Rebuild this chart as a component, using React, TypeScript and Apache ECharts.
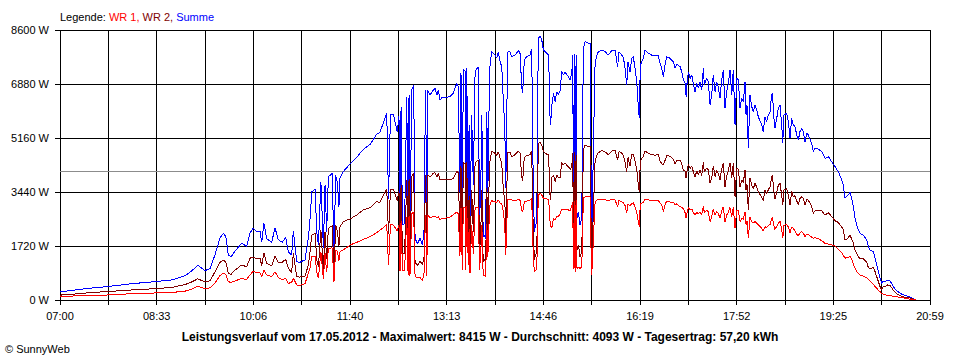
import React, { useEffect, useRef } from "react";
import * as echarts from "echarts";

// Time axis: minutes after 07:00 (07:00 .. 20:59)
const dayStartLabel = "07:00";
const dayLength = 839;
const xLabels = ["07:00", "08:33", "10:06", "11:40", "13:13", "14:46", "16:19", "17:52", "19:25", "20:59"];
const yMax = 8600;
const yStep = 1720;

const average = 4093;
const maximum = 8415;
const dayYield = "57,20";
const dateText = "17.05.2012";

const minutes = [
  0, 1, 14.5, 29, 46.6, 69, 91.6, 107.7, 120.5, 127,
  132.8, 139.8, 144.7, 149.5, 154.3, 157.5, 160, 162.3, 165, 168.8,
  175.2, 180, 183.2, 186.4, 189.7, 192.9, 194.5, 196.7, 199.3, 204.1,
  207.3, 210.5, 214.4, 217.6, 220.2, 223.4, 225, 228.3, 231.4, 236.3,
  239.5, 241, 242.8, 246, 247.6, 249.2, 251.6, 254, 255.6, 257.2,
  258.8, 262.6, 264.2, 265.8, 267.4, 269, 270, 273.2, 276.5, 279.7,
  286.1, 292.5, 299, 305.4, 308.6, 311.8, 315.1, 316.8, 318.7, 321.4,
  325.2, 326.9, 327.9, 328.9, 330.3, 332.3, 334.4, 335.7, 336.6, 337.5,
  339.2, 341.1, 342.4, 344.8, 347.2, 349.4, 351, 352, 352.7, 353.6,
  354.6, 356.8, 360, 361.6, 363.6, 364.8, 366.5, 368.1, 371.3, 376.1,
  379.3, 380.9, 382.6, 384.1, 385.7, 386.7, 388, 388.9, 390.6, 391.2,
  392.2, 393.8, 394.5, 395.4, 397, 398.6, 400.3, 401.9, 403.5, 404.5,
  405.8, 406.8, 408.1, 409, 410.5, 411.6, 412.6, 413.7, 414.7, 416.3,
  419.5, 421.2, 422.7, 424.4, 426, 427.6, 428.5, 429.2, 429.9, 430.9,
  431.8, 434, 435.6, 438.8, 442, 443.6, 445.3, 446.2, 447.5, 448.5,
  450.1, 453.3, 454.9, 455.9, 456.5, 457.5, 458.6, 459.8, 460.8, 461.3,
  463, 464.6, 466.2, 469.5, 471, 472, 472.7, 473.3, 474.3, 475.9,
  477.5, 479.1, 480.6, 482.2, 483.9, 485.4, 487.1, 488.7, 490.3, 491.9,
  493.5, 494.5, 495.1, 496, 496.7, 497.7, 498.6, 499.9, 501.5, 503.2,
  504.7, 506.4, 509.6, 511.2, 512.2, 512.8, 513.8, 514.7, 516, 517.6,
  519.2, 522.4, 525.6, 528.8, 532, 535.2, 537.8, 539, 541.8, 543.4,
  545, 546.5, 547.8, 549.7, 551.3, 552.9, 554.5, 556.2, 557.7, 558.7,
  559.6, 561, 562.6, 564.2, 567.4, 570.6, 573.8, 577, 578.6, 580.3,
  581.8, 583.5, 585.1, 588.3, 591.5, 593.1, 594.8, 598, 599.6, 601.2,
  602.8, 603.8, 604.5, 606, 607.7, 609.3, 610.9, 612.4, 614.1, 615.7,
  617.2, 618.9, 620.4, 621.4, 623.7, 625.2, 626.9, 628.5, 630, 631.7,
  633.3, 634.8, 636.5, 638.1, 639.7, 641.3, 642.9, 644.5, 646.1, 647.8,
  649.3, 651, 652.6, 654.2, 655.8, 657.4, 659, 660.6, 661.6, 662.5,
  663.8, 665.4, 667.1, 668.6, 670.2, 671.9, 673.4, 676.7, 678.2, 679.9,
  681.5, 683.1, 684.7, 686.3, 687.3, 687.9, 689.5, 691.2, 692.7, 694.4,
  696, 697, 698.2, 700.8, 702.4, 704, 705.6, 707.2, 708.8, 710.5,
  712, 713.6, 715.3, 716.8, 718.5, 720.1, 721.7, 724.9, 726.5, 728.1,
  731.3, 734.6, 737.8, 741, 744.2, 747.4, 750.6, 753.9, 755.4, 757,
  758.6, 760.2, 761.9, 763.5, 765.1, 766.7, 768.3, 769.9, 771.5, 774.7,
  778, 779.5, 781.2, 784.3, 786, 787.6, 789.2, 790.8, 792.4, 794,
  795.6, 798.2, 800.5, 803.7, 807, 812, 815.3, 818.5, 823.5, 825.2,
];

// WR 1 (W)
const wr1 = [
  100, 106, 130, 140, 160, 200, 223, 240, 280, 350,
  435, 360, 390, 540, 775, 850, 810, 584, 560, 605,
  690, 650, 800, 920, 860, 870, 740, 955, 800, 740,
  900, 720, 637, 700, 531, 560, 700, 478, 470, 520,
  850, 1009, 1380, 1400, 900, 690, 1540, 680, 1480, 880,
  1645, 1660, 560, 1600, 1560, 1250, 1540, 1600, 1667, 1752,
  1836, 1932, 2017, 2145, 2230, 2304, 2410, 1115, 2400, 2389,
  2200, 2380, 930, 2500, 950, 930, 2650, 800, 2680, 780,
  2750, 2800, 760, 700, 720, 620, 800, 2150, 2707, 780,
  2700, 2620, 2654, 2680, 2610, 2660, 2550, 2601, 2601, 2640,
  2720, 2761, 2800, 2750, 1400, 2940, 950, 2960, 2950, 950,
  2980, 1100, 2250, 850, 2380, 1480, 2920, 2960, 2950, 950,
  1480, 2380, 800, 770, 760, 2420, 1380, 2420, 3050, 3160,
  3132, 3100, 3185, 3080, 3080, 2813, 2500, 2100, 1433, 2450,
  3217, 3200, 3185, 3170, 3200, 3180, 2867, 2800, 3050, 3150,
  3150, 3180, 3238, 2000, 1327, 902, 930, 1000, 2700, 3345,
  3398, 3344, 3238, 3217, 3185, 2900, 2400, 2350, 2300, 2601,
  2550, 2650, 2650, 2750, 2900, 2870, 2900, 2880, 2867, 2850,
  2973, 3130, 1000, 3150, 902, 3185, 1000, 1050, 1009, 1050,
  3238, 3291, 3290, 3280, 1450, 796, 1500, 2200, 3100, 3180,
  3217, 3200, 3190, 3170, 3200, 3185, 2973, 3185, 3120, 3100,
  3000, 2761, 3050, 3000, 3070, 3100, 2960, 2800, 2495, 2336,
  3080, 3080, 3120, 3217, 3190, 3170, 3170, 3170, 3100, 3040,
  2813, 3040, 3150, 3120, 3110, 3040, 3060, 2973, 2950, 2900,
  2780, 2601, 2750, 2950, 2870, 2900, 2780, 2707, 2790, 2740,
  2810, 2720, 2990, 2780, 2850, 2810, 2495, 2650, 2900, 2700,
  2820, 2760, 2601, 2840, 2970, 2495, 2700, 2790, 2950, 2650,
  2960, 2283, 2860, 2840, 2500, 2600, 2570, 2813, 2400, 2520,
  1965, 2640, 2500, 2450, 2500, 2442, 2400, 2290, 2200, 2336,
  2300, 2380, 2400, 2601, 2620, 2420, 2250, 2350, 2450, 2500,
  2250, 1965, 2380, 2400, 2330, 2130, 2330, 2280, 2200, 2100,
  2050, 2130, 2180, 2130, 2020, 2100, 2080, 2000, 1965, 1990,
  1950, 1890, 1805, 1780, 1752, 1720, 1620, 1500, 1420, 1330,
  1350, 1360, 1380, 1300, 1150, 1009, 902, 850, 796, 760,
  711, 660, 605, 500, 425, 372, 310, 264, 210, 180,
  165, 150, 140, 120, 100, 74, 55, 32, 10, 0,
];

// WR 2 (W)
const wr2 = [
  155, 158, 190, 235, 270, 320, 360, 400, 490, 575,
  675, 575, 610, 900, 1200, 1274, 1200, 850, 820, 955,
  1115, 1060, 1330, 1370, 1310, 1330, 1100, 1486, 1160, 1090,
  1400, 1200, 1200, 1300, 1009, 870, 1500, 743, 730, 760,
  1115, 1500, 2070, 2123, 1280, 1060, 2230, 970, 2180, 1300,
  2280, 2370, 770, 2380, 2210, 1720, 2335, 2488, 2548, 2580,
  2707, 2867, 2940, 3132, 3110, 3344, 3536, 2100, 3520, 3536,
  3160, 3480, 1460, 3650, 1450, 1500, 3820, 1250, 3850, 1180,
  3940, 4040, 1200, 1100, 1240, 1130, 1300, 3100, 3980, 1185,
  3990, 3910, 4035, 4060, 3920, 4029, 3820, 3840, 3842, 3840,
  3860, 3980, 4100, 4045, 2050, 4280, 1440, 4370, 4350, 1440,
  4400, 1710, 3320, 1330, 3510, 2180, 4350, 4420, 4450, 1440,
  2180, 3510, 1200, 1300, 1200, 3580, 2070, 3580, 4435, 4750,
  4670, 4600, 4725, 4510, 4350, 3500, 3280, 2940, 2120, 3550,
  4690, 4700, 4565, 4630, 4746, 4680, 3930, 3783, 4435, 4550,
  4600, 4624, 4757, 2937, 2120, 1275, 1460, 1495, 3935, 4990,
  5017, 4938, 4725, 4640, 4619, 4000, 3174, 3330, 3900, 3981,
  3770, 3985, 3900, 3900, 4385, 4300, 4370, 4290, 4247, 4160,
  4247, 4674, 1813, 4700, 1487, 4615, 1600, 1760, 1380, 1550,
  4779, 4937, 4886, 4890, 2320, 1169, 2270, 3160, 4400, 4600,
  4692, 4763, 4720, 4630, 4740, 4778, 4459, 4725, 4680, 4600,
  4379, 4088, 4540, 4270, 4630, 4650, 4420, 4154, 3663, 3450,
  4400, 4510, 4580, 4746, 4670, 4630, 4610, 4630, 4440, 4340,
  4300, 4445, 4600, 4578, 4480, 4340, 4447, 4459, 4323, 4108,
  4121, 3875, 4098, 4323, 4191, 4267, 4068, 3928, 4111, 4003,
  4144, 3969, 4389, 4068, 4211, 4144, 3716, 3880, 4267, 3935,
  4134, 4035, 3822, 4168, 4356, 3610, 3935, 4111, 4376, 3880,
  4366, 3290, 4201, 4168, 3604, 3823, 3746, 4141, 3492, 3691,
  2866, 3890, 3657, 3548, 3711, 3609, 3439, 3284, 3162, 3504,
  3380, 3512, 3598, 3929, 3963, 3578, 3218, 3436, 3654, 3711,
  3324, 3026, 3512, 3546, 3350, 3020, 3456, 3294, 3321, 3155,
  3046, 3232, 3288, 3232, 3023, 3208, 3175, 2991, 2760, 2841,
  2860, 2835, 2708, 2785, 2653, 2527, 2468, 2320, 2240, 1908,
  1941, 1984, 2070, 1938, 1823, 1592, 1487, 1380, 1327, 1310,
  1200, 1039, 988, 1040, 902, 743, 592, 426, 321, 425,
  419, 480, 465, 305, 187, 106, 85, 74, 22, 0,
];

const n = Math.min(minutes.length, wr1.length, wr2.length);
const summe = wr1.slice(0, n).map((v, i) => v + wr2[i]);

const FONT = "'Liberation Sans', Arial, sans-serif";

export default function App() {
  const ref = useRef<HTMLDivElement>(null);

  useEffect(() => {
    document.body.style.margin = "0";
    if (!ref.current) return;
    const chart = echarts.init(ref.current, undefined, { renderer: "svg" });
    const step = dayLength / 18;
    const toPairs = (vals: number[]) => minutes.slice(0, n).map((m, i) => [m, vals[i]]);

    const title =
      `Leistungsverlauf vom ${dateText} - Maximalwert: ${maximum} W - ` +
      `Durchschnitt: ${average} W - Tagesertrag: ${dayYield} kWh`;

    chart.setOption({
      animation: false,
      textStyle: { fontFamily: FONT },
      grid: {
        left: 60,
        top: 30,
        width: 870,
        height: 270,
        show: true,
        borderColor: "#000",
        borderWidth: 1,
        backgroundColor: "transparent",
      },
      xAxis: {
        type: "value",
        min: 0,
        max: dayLength,
        interval: step,
        axisLine: { show: true, onZero: false, lineStyle: { color: "#000", width: 1 } },
        axisTick: { show: true, inside: false, length: 5, lineStyle: { color: "#000", width: 1 } },
        splitLine: { show: true, lineStyle: { color: "#000", width: 1 } },
        axisLabel: {
          color: "#000",
          fontSize: 11,
          fontFamily: FONT,
          margin: 10,
          showMinLabel: true,
          showMaxLabel: true,
          formatter: (v: number) => {
            const i = Math.round(v / step);
            if (i % 2 !== 0) return "";
            return xLabels[i / 2] ?? dayStartLabel;
          },
        },
      },
      yAxis: {
        type: "value",
        min: 0,
        max: yMax,
        interval: yStep,
        axisLine: { show: true, lineStyle: { color: "#000", width: 1 } },
        axisTick: { show: true, inside: false, length: 5, lineStyle: { color: "#000", width: 1 } },
        splitLine: { show: true, lineStyle: { color: "#000", width: 1 } },
        axisLabel: {
          color: "#000",
          fontSize: 11,
          fontFamily: FONT,
          margin: 11,
          formatter: (v: number) => `${v} W`,
        },
      },
      series: [
        {
          name: "Summe",
          type: "line",
          data: toPairs(summe),
          showSymbol: false,
          symbol: "none",
          silent: true,
          lineStyle: { color: "#0000ff", width: 1 },
          itemStyle: { color: "#0000ff" },
          emphasis: { disabled: true },
          z: 3,
          markLine: {
            silent: true,
            symbol: ["none", "none"],
            z: 1,
            label: { show: false },
            lineStyle: { color: "#8c8c8c", type: "solid", width: 1 },
            emphasis: { disabled: true },
            data: [{ yAxis: average }],
          },
        },
        {
          name: "WR 2",
          type: "line",
          data: toPairs(wr2),
          showSymbol: false,
          symbol: "none",
          silent: true,
          lineStyle: { color: "#800000", width: 1 },
          itemStyle: { color: "#800000" },
          emphasis: { disabled: true },
          z: 4,
        },
        {
          name: "WR 1",
          type: "line",
          data: toPairs(wr1),
          showSymbol: false,
          symbol: "none",
          silent: true,
          lineStyle: { color: "#ff0000", width: 1 },
          itemStyle: { color: "#ff0000" },
          emphasis: { disabled: true },
          z: 5,
        },
      ],
      graphic: [
        {
          type: "text",
          x: 60,
          y: 17,
          silent: true,
          style: {
            text: "{k|Legende: }{a|WR 1,}{k| }{b|WR 2,}{k| }{c|Summe}",
            font: `11px ${FONT}`,
            verticalAlign: "middle",
            textVerticalAlign: "middle",
            rich: {
              k: { fill: "#000", fontSize: 11, fontFamily: FONT },
              a: { fill: "#ff0000", fontSize: 11, fontFamily: FONT },
              b: { fill: "#800000", fontSize: 11, fontFamily: FONT },
              c: { fill: "#0000ff", fontSize: 11, fontFamily: FONT },
            },
          },
        },
        {
          type: "text",
          x: 480,
          y: 337,
          silent: true,
          style: {
            text: title,
            font: `bold 12px ${FONT}`,
            fill: "#000",
            align: "center",
            verticalAlign: "middle",
            textAlign: "center",
            textVerticalAlign: "middle",
          },
        },
        {
          type: "text",
          x: 5,
          y: 349,
          silent: true,
          style: {
            text: "© SunnyWeb",
            font: `11px ${FONT}`,
            fill: "#000",
            verticalAlign: "middle",
            textVerticalAlign: "middle",
          },
        },
      ],
    });

    return () => {
      chart.dispose();
    };
  }, []);

  return (
    <>
      <style>{`.sw-chart svg path { shape-rendering: crispEdges; }`}</style>
      <div className="sw-chart" ref={ref} style={{ width: 960, height: 360, background: "#fff" }} />
    </>
  );
}
